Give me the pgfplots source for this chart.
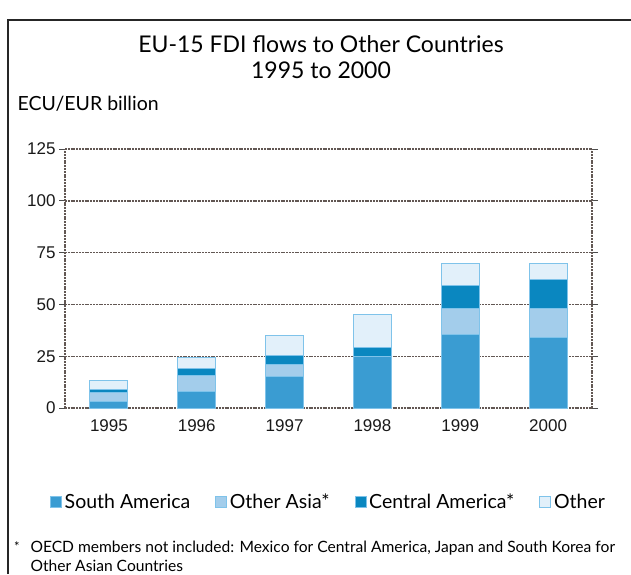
\documentclass[border=0pt]{standalone}
\usepackage{fontspec}
\setmainfont{Lato}
\newfontfamily\arialf{Liberation Sans}
\usepackage{pgfplots}
\pgfplotsset{compat=1.18}
\definecolor{saC}{HTML}{3A9CD2}
\definecolor{oaC}{HTML}{A3CDEB}
\definecolor{caC}{HTML}{0A87C0}
\definecolor{otC}{HTML}{E2F0FA}
\definecolor{brdC}{HTML}{7FC3EA}
\definecolor{gridC}{HTML}{625753}
\begin{document}
\begin{tikzpicture}[x=1pt,y=1pt]
\useasboundingbox (0,0) rectangle (631,574);
\draw[line width=1.3pt, black!85] (8,0) -- (8,554) -- (631,554);
\node[font=\fontsize{23}{27}\selectfont] at (321,530) {EU-15 FDI flows to Other Countries};
\node[font=\fontsize{23}{27}\selectfont] at (321,504) {1995 to 2000};
\node[anchor=west, font=\fontsize{19.5}{22}\selectfont] at (14,470) {ECU/EUR billion};
\node[font=\fontsize{13}{14}\selectfont] at (17,27) {*};
\node[anchor=west, font=\fontsize{15.6}{18}\selectfont] at (27,26) {OECD members not included: Mexico for Central America, Japan and South Korea for};
\node[anchor=west, font=\fontsize{15.6}{18}\selectfont] at (27,8) {Other Asian Countries};
\begin{axis}[
  at={(65pt,166pt)}, anchor=south west,
  scale only axis, width=527pt, height=259pt,
  xmin=-0.5, xmax=5.5, ymin=0, ymax=125,
  ybar stacked, bar width=38pt,
  xtick={0,1,2,3,4,5},
  xticklabels={1995,1996,1997,1998,1999,2000},
  extra x ticks={0.5,1.5,2.5,3.5,4.5},
  extra x tick labels={},
  extra x tick style={major tick length=6pt, tick align=outside, tick style={black!70, line width=0.8pt}},
  ytick={0,25,50,75,100,125},
  major x tick style={draw=none},
  major tick length=6pt,
  tick align=outside,
  y tick style={black!70, line width=0.8pt},
  ymajorgrids,
  grid style={gridC, line width=1.4pt, dash pattern=on 2pt off 0.8pt},
  axis line style={gridC, line width=1.4pt, dash pattern=on 2pt off 0.8pt},
  axis x line*=bottom,
  /pgf/number format/assume math mode=true,
  tick label style={font=\arialf\fontsize{17}{20}\selectfont, black!90},
  xticklabel style={yshift=-2pt},
  legend style={at={(0.5,-0.362)}, anchor=center, draw=none, fill=none,
    legend columns=4, font=\fontsize{19.5}{22}\selectfont,
    /tikz/every even column/.append style={column sep=23pt},
    /tikz/every odd column/.append style={column sep=1pt}},
  legend image code/.code={\draw[#1, draw=brdC, line width=0.6pt] (0pt,-5.5pt) rectangle (11pt,5.5pt);},
  legend cell align=left,
]
\addplot[fill=saC, draw=brdC, line width=1pt] coordinates {(0,3) (1,8) (2,15) (3,25) (4,35.5) (5,34)};
\addplot[fill=oaC, draw=brdC, line width=1pt] coordinates {(0,4.5) (1,7.5) (2,6) (3,0) (4,12.5) (5,14)};
\addplot[fill=caC, draw=brdC, line width=1pt] coordinates {(0,1.5) (1,3.5) (2,4.5) (3,4) (4,11) (5,14)};
\addplot[fill=otC, draw=brdC, line width=1pt] coordinates {(0,4.5) (1,5.5) (2,9.5) (3,16) (4,10.5) (5,7.5)};
\legend{South America,Other Asia*,Central America*,Other}
\end{axis}
\draw[gridC, line width=1.4pt, dash pattern=on 2pt off 0.8pt] (65,166) -- (65,425) (592,166) -- (592,425);
\end{tikzpicture}
\end{document}
